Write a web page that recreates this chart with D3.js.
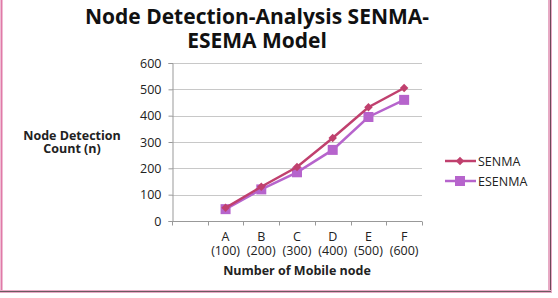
<!DOCTYPE html>
<html>
<head>
<meta charset="utf-8">
<script src="https://cdn.jsdelivr.net/npm/d3@7"></script>
<style>
  body { margin: 0; background: #fff; }
  svg { display: block; font-family: "Open Sans", "DejaVu Sans", sans-serif; }
</style>
</head>
<body>
<svg id="chart"></svg>
<script>
// data
var categories = ["", "A|(100)", "B|(200)", "C|(300)", "D|(400)", "E|(500)", "F|(600)"];
var senma = [null, 50, 130, 205, 315, 432, 505];
var esenma = [null, 45, 120, 185, 270, 395, 460];
var yTicks = [0, 100, 200, 300, 400, 500, 600];

var svgWidth = 558, svgHeight = 298;
var svg = d3.select('#chart')
    .attr('width', svgWidth)
    .attr('height', svgHeight);

// outer frame
svg.append('line').attr('x1', 1.5).attr('x2', 1.5).attr('y1', 0).attr('y2', 292)
    .attr('stroke', '#e07aa8').attr('stroke-width', 2);
svg.append('rect').attr('x', 548).attr('y', 0).attr('width', 4).attr('height', 293)
    .attr('fill', '#e8a9c4');
svg.append('line').attr('x1', 550.5).attr('x2', 550.5).attr('y1', 0).attr('y2', 293)
    .attr('stroke', '#6b4a58').attr('stroke-width', 1);
svg.append('rect').attr('x', 0).attr('y', 290).attr('width', 552).attr('height', 3)
    .attr('fill', '#e8a9c4');
svg.append('line').attr('x1', 0).attr('x2', 551).attr('y1', 291.5).attr('y2', 291.5)
    .attr('stroke', '#6b5a60').attr('stroke-width', 1);

// title
var title = svg.append('text')
    .attr('text-anchor', 'middle')
    .attr('font-weight', 'bold')
    .attr('font-size', 21)
    .attr('fill', '#111');
title.append('tspan').attr('x', 257).attr('y', 24).text('Node Detection-Analysis SENMA-');
title.append('tspan').attr('x', 257).attr('y', 48).text('ESEMA Model');

var plotLeft = 172, plotRight = 422, plotTop = 63, plotBottom = 221;

var x = d3.scaleBand().domain(d3.range(categories.length)).range([plotLeft, plotRight]);
var y = d3.scaleLinear().domain([0, 600]).range([plotBottom, plotTop]);

// gridlines
svg.append('g').selectAll('line')
    .data(yTicks.slice(1))
    .enter()
    .append('line')
    .attr('x1', plotLeft).attr('x2', plotRight)
    .attr('y1', function (d) { return Math.round(y(d)) + 0.5; })
    .attr('y2', function (d) { return Math.round(y(d)) + 0.5; })
    .attr('stroke', '#c8c8c8');

// y axis
var yAxis = svg.append('g')
    .attr('transform', 'translate(' + (plotLeft + 0.5) + ',0)')
    .call(d3.axisLeft(y).tickValues(yTicks).tickSize(4).tickPadding(7));
yAxis.select('.domain').attr('stroke', '#999');
yAxis.selectAll('.tick line').attr('stroke', '#999');
yAxis.selectAll('.tick text').attr('font-size', 12.5).attr('fill', '#222')
    .attr('font-family', '"Open Sans", sans-serif');

// x axis
var xAxis = svg.append('g')
    .attr('transform', 'translate(0,' + (plotBottom + 0.5) + ')');
xAxis.append('line').attr('x1', plotLeft).attr('x2', plotRight).attr('stroke', '#999');
xAxis.selectAll('.tk')
    .data(d3.range(categories.length + 1))
    .enter()
    .append('line')
    .attr('x1', function (d) { return Math.round(plotLeft + d * x.step()) + 0.5; })
    .attr('x2', function (d) { return Math.round(plotLeft + d * x.step()) + 0.5; })
    .attr('y1', 0).attr('y2', 4)
    .attr('stroke', '#999');
var xl = xAxis.selectAll('.lbl')
    .data(categories)
    .enter()
    .append('text')
    .attr('text-anchor', 'middle')
    .attr('font-size', 12.5)
    .attr('fill', '#222');
xl.append('tspan')
    .attr('x', function (d, i) { return x(i) + x.bandwidth() / 2; })
    .attr('y', 19)
    .text(function (d) { return d.split('|')[0]; });
xl.append('tspan')
    .attr('x', function (d, i) { return x(i) + x.bandwidth() / 2; })
    .attr('y', 33)
    .text(function (d) { return d.split('|')[1] || ''; });

// axis titles
svg.append('text')
    .attr('x', 297).attr('y', 275)
    .attr('text-anchor', 'middle')
    .attr('font-weight', 'bold')
    .attr('font-size', 12.5)
    .attr('fill', '#222')
    .text('Number of Mobile node');
var yt = svg.append('text')
    .attr('text-anchor', 'middle')
    .attr('font-weight', 'bold')
    .attr('font-size', 12.5)
    .attr('fill', '#222');
yt.append('tspan').attr('x', 72).attr('y', 140).text('Node Detection');
yt.append('tspan').attr('x', 72).attr('y', 153).text('Count (n)');

// series
var series = [
    { name: 'SENMA', values: senma, color: '#c0406e', marker: 'diamond' },
    { name: 'ESENMA', values: esenma, color: '#b664cc', marker: 'square' }
];

var line = d3.line()
    .defined(function (d) { return d !== null; })
    .x(function (d, i) { return x(i) + x.bandwidth() / 2; })
    .y(function (d) { return y(d); });

// draw ESENMA under SENMA
series.slice().reverse().forEach(function (s) {
    svg.append('path')
        .datum(s.values)
        .attr('fill', 'none')
        .attr('stroke', s.color)
        .attr('stroke-width', 2.5)
        .attr('d', line);
    var pts = s.values.map(function (v, i) { return { v: v, i: i }; })
        .filter(function (p) { return p.v !== null; });
    svg.append('g').selectAll('path')
        .data(pts)
        .enter()
        .append('path')
        .attr('transform', function (p) {
            return 'translate(' + (x(p.i) + x.bandwidth() / 2) + ',' + y(p.v) + ')' +
                (s.marker === 'diamond' ? ' rotate(45)' : '');
        })
        .attr('d', s.marker === 'diamond' ? 'M-3,-3H3V3H-3Z' : 'M-5,-5H5V5H-5Z')
        .attr('fill', s.color);
});

// legend
series.forEach(function (s, i) {
    var ly = 161 + i * 20;
    var g = svg.append('g');
    g.append('line').attr('x1', 445).attr('x2', 476).attr('y1', ly).attr('y2', ly)
        .attr('stroke', s.color).attr('stroke-width', 2.5);
    g.append('path')
        .attr('transform', 'translate(460,' + ly + ')' + (s.marker === 'diamond' ? ' rotate(45)' : ''))
        .attr('d', s.marker === 'diamond' ? 'M-3,-3H3V3H-3Z' : 'M-5,-5H5V5H-5Z')
        .attr('fill', s.color);
    g.append('text').attr('x', 478).attr('y', ly + 4.5)
        .attr('font-size', 12.5).attr('fill', '#222')
        .text(s.name);
});
</script>
</body>
</html>
